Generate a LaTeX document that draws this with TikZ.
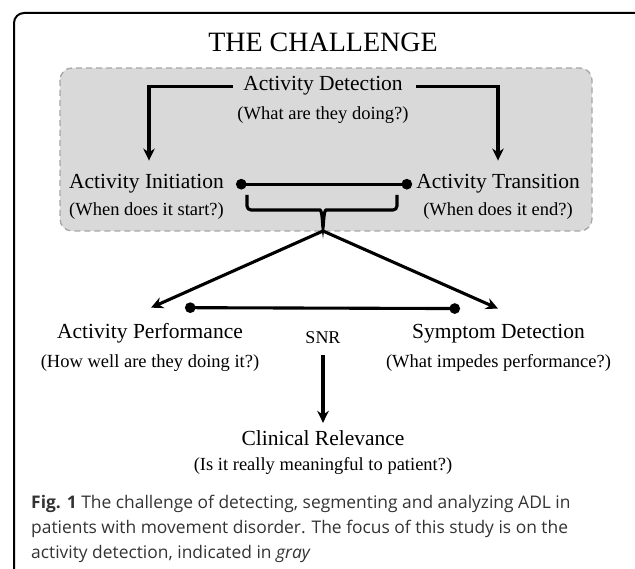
\documentclass[tikz,border=0pt]{standalone}
\usepackage{fontspec}
\setmainfont{Liberation Serif}
\newfontfamily\capfont{Open Sans}
\usetikzlibrary{arrows.meta}

\begin{document}
\begin{tikzpicture}[x=1pt,y=-1pt,
  lbl/.style={anchor=base,inner sep=0pt,font=\fontsize{21.5}{24}\selectfont},
  sub/.style={anchor=base,inner sep=0pt,font=\fontsize{18.5}{21}\selectfont},
  arr/.style={line width=3.1pt,-{Stealth[length=12pt,width=11.5pt]}},
  dots/.style={line width=3.1pt,{Circle[length=10.5pt]}-{Circle[length=10.5pt]}}]
  \useasboundingbox (0,0) rectangle (635,569);
  \draw[line width=2pt,rounded corners=10pt] (14,13) rectangle (660,600);
  \node[anchor=base,inner sep=0pt,font=\fontsize{28}{30}\selectfont] (title) at (323,52) {THE CHALLENGE};
  % shaded part = what the study looks at
  \draw[fill=gray!30,draw=gray!70,line width=1.3pt,dash pattern=on 6pt off 4pt,rounded corners=12pt]
    (60,68) rectangle (592,231);
  \node[lbl] (det) at (323,91) {Activity Detection};
  \node[sub] (detq) at (323,119.5) {(What are they doing?)};
  \node[lbl] (init) at (146.5,189) {Activity Initiation};
  \node[sub] (initq) at (146.5,215.5) {(When does it start?)};
  \node[lbl] (trans) at (498,189) {Activity Transition};
  \node[sub] (transq) at (498,215.5) {(When does it end?)};
  \node[lbl] (perf) at (150,339) {Activity Performance};
  \node[sub] (perfq) at (150,367.5) {(How well are they doing it?)};
  \node[anchor=base,inner sep=0pt,font=\fontsize{18}{20}\selectfont] (snr) at (323,344) {SNR};
  \node[lbl] (symp) at (498.5,339) {Symptom Detection};
  \node[sub] (sympq) at (498.5,367.5) {(What impedes performance?)};
  \node[lbl] (clin) at (323,446) {Clinical Relevance};
  \node[sub] (clinq) at (323,470.5) {(Is it really meaningful to patient?)};

  \draw[arr] ([xshift=-10pt]det.west) -| ([xshift=2.5pt,yshift=14pt]init.north);
  \draw[arr] ([xshift=13pt]det.east) -| ([yshift=14pt]trans.north);
  \draw[dots] ([xshift=12pt]init.east) -- ([xshift=-4pt]trans.west);
  % brace under the two dots
  \draw[line width=3.1pt,rounded corners=4pt] (247,195) -- (247,210) -- (316,210)
    .. controls (321,210) and (322,213) .. (323,230)
    .. controls (324,213) and (325,210) .. (330,210) -- (397,210) -- (397,195);
  \coordinate (tip) at (323,231);
  \draw[arr] (tip) -- ([xshift=1pt,yshift=16pt]perf.north);
  \draw[arr] (tip) -- ([xshift=-0.5pt,yshift=16pt]symp.north);
  \draw[dots] ([xshift=35pt,yshift=16pt]perf.north) -- ([xshift=-38.5pt,yshift=16pt]symp.north);
  \draw[arr] ([yshift=-11pt]snr.south) -- ([yshift=8pt]clin.north);

  \node[anchor=north west,inner sep=0pt,align=left,text=black!80,
    font=\capfont\fontsize{17.4}{25}\selectfont] (cap) at (31,495)
    {\textbf{Fig. 1} The challenge of detecting, segmenting and analyzing ADL in\\
     patients with movement disorder. The focus of this study is on the\\
     activity detection, indicated in \textit{gray}};
\end{tikzpicture}
\end{document}
